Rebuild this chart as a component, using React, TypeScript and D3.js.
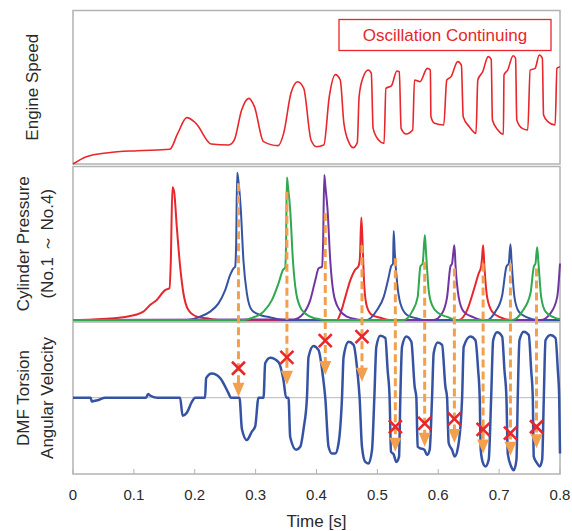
import * as d3 from "d3"

const timeTicks = [0, 0.1, 0.2, 0.3, 0.4, 0.5, 0.6, 0.7, 0.8]

// engine speed: [time s, relative speed]
const engineSpeed: [number, number][] = [
  [0, 0], [0.022, 4.8], [0.058, 7.4], [0.106, 8.7], [0.159, 9.6], [0.172, 20], [0.187, 30.3],
  [0.202, 26.6], [0.227, 13.1], [0.256, 12.4], [0.265, 15.7], [0.277, 35.3], [0.289, 42.9],
  [0.298, 37.5], [0.313, 14.6], [0.337, 12], [0.346, 20], [0.358, 46.2], [0.369, 53.8],
  [0.379, 49.5], [0.391, 15.7], [0.4, 11.3], [0.412, 12.4], [0.421, 44], [0.431, 58.4],
  [0.439, 54.9], [0.445, 26.6], [0.454, 13.5], [0.46, 10.7], [0.467, 14], [0.47, 44],
  [0.476, 56], [0.485, 61.4], [0.49, 59.3], [0.493, 23.3], [0.502, 15.7], [0.511, 13.5],
  [0.514, 49.5], [0.523, 51], [0.532, 60.8], [0.536, 60.3], [0.539, 23.3], [0.547, 19.6],
  [0.558, 22.2], [0.561, 54.9], [0.57, 53.8], [0.582, 62.5], [0.587, 61.4], [0.588, 30.9],
  [0.594, 26.6], [0.609, 25.5], [0.614, 54.9], [0.621, 57.1], [0.632, 66.9], [0.638, 64.7],
  [0.641, 30.9], [0.651, 24.4], [0.662, 20], [0.665, 54.9], [0.673, 60.3], [0.682, 70.2],
  [0.687, 68.4], [0.689, 28.8], [0.698, 22.2], [0.707, 19.4], [0.708, 58.2], [0.714, 61.4],
  [0.723, 70.8], [0.727, 69.1], [0.729, 28.8], [0.738, 23.3], [0.747, 22.2], [0.751, 61.4],
  [0.759, 62.5], [0.766, 71.2], [0.771, 69.1], [0.773, 32], [0.78, 27.7], [0.792, 25.5],
  [0.795, 62.5], [0.8, 63.6],
]

// cylinder pressure: [time s, relative pressure]
const cylRed: [number, number][] = [
  [0, 0], [0.0334, 0.4], [0.0883, 2.2], [0.1156, 5.5], [0.1266, 9.8], [0.1376, 13.1],
  [0.1513, 19.6], [0.1584, 20.8], [0.1607, 39], [0.1633, 86.9], [0.1661, 84], [0.1705, 61],
  [0.176, 35], [0.1814, 17.5], [0.1896, 6.5], [0.2034, 2.2], [0.22, 1.1], [0.2417, 0],
  [0.4336, 0], [0.439, 4], [0.4473, 15], [0.4555, 26], [0.4637, 33], [0.4687, 35], [0.4712, 40],
  [0.4736, 67.2], [0.4757, 50], [0.4785, 22], [0.4829, 8.7], [0.4911, 3.3], [0.5048, 1.5],
  [0.5213, 0], [0.6336, 0], [0.6474, 6.5], [0.6583, 19.6], [0.6665, 30.6], [0.6704, 35],
  [0.6718, 40], [0.6737, 49], [0.6758, 35], [0.6803, 15], [0.6885, 5.5], [0.7022, 1.7],
  [0.7186, 0], [0.8, 0],
]
const cylBlue: [number, number][] = [
  [0, 0], [0.187, 0], [0.2088, 2.2], [0.2253, 5.5], [0.239, 10.9], [0.25, 19.6], [0.2582, 29.5],
  [0.2636, 33.8], [0.2664, 34.9], [0.268, 50], [0.2697, 96.5], [0.2715, 92], [0.2757, 72],
  [0.28, 39], [0.2856, 17.5], [0.2938, 6.5], [0.3075, 3.3], [0.324, 1.7], [0.3458, 0],
  [0.483, 0], [0.4994, 6.5], [0.5103, 15], [0.5185, 28], [0.5224, 35], [0.5257, 37],
  [0.5268, 58.3], [0.5285, 45], [0.5323, 25], [0.5377, 11], [0.5487, 3.3], [0.5652, 1],
  [0.576, 0], [0.6803, 0], [0.694, 5.5], [0.705, 16], [0.712, 35], [0.7158, 37], [0.7186, 49.6],
  [0.7205, 38], [0.7252, 15], [0.7323, 5.5], [0.746, 1.7], [0.7625, 0], [0.8, 0],
]
const cylGreen: [number, number][] = [
  [0, 0], [0.28, 0], [0.291, 1], [0.313, 5.5], [0.3267, 13], [0.3376, 24], [0.3448, 32.7],
  [0.3486, 34.5], [0.35, 50], [0.3514, 93.4], [0.353, 88], [0.3568, 72], [0.3613, 39],
  [0.3667, 17.5], [0.376, 6.5], [0.3897, 2.2], [0.406, 0.4], [0.42, 0], [0.5432, 0],
  [0.557, 5.5], [0.5662, 15], [0.5706, 35], [0.5744, 37], [0.578, 55.7], [0.5798, 45],
  [0.5843, 19.6], [0.5898, 9.8], [0.6007, 4.4], [0.6171, 1.7], [0.6281, 0], [0.7214, 0],
  [0.7378, 5.5], [0.7515, 17.5], [0.757, 35], [0.7597, 37], [0.7625, 47.6], [0.7645, 38],
  [0.7691, 15], [0.7762, 5.5], [0.7899, 1.7], [0.8, 0.5],
]
const cylPurple: [number, number][] = [
  [0, 0], [0.3623, 0.4], [0.3787, 4.4], [0.3897, 13], [0.398, 26], [0.4034, 33.8], [0.409, 34.9],
  [0.4108, 50], [0.4128, 95], [0.4145, 88], [0.4182, 72], [0.4226, 39], [0.428, 17.5],
  [0.4363, 7.6], [0.45, 2.2], [0.4665, 0.4], [0.48, 0], [0.5925, 0], [0.6063, 4.4], [0.6145, 15],
  [0.62, 35], [0.6227, 37], [0.625, 45], [0.6265, 49], [0.6285, 35], [0.6336, 15], [0.6418, 5.5],
  [0.6583, 1.7], [0.672, 0], [0.768, 0], [0.7844, 4.4], [0.7954, 15], [0.8, 37],
]

// DMF torsion angular velocity: [time s, relative velocity]
const dmfVelocity: [number, number][] = [
  [0, 0], [0.0291, 0], [0.0307, -0.05], [0.034, -0.045], [0.042, -0.03], [0.0526, 0], [0.12, 0],
  [0.1233, 0.05], [0.1266, 0.03], [0.138, 0], [0.176, 0], [0.18, -0.24], [0.187, -0.2],
  [0.195, -0.06], [0.2006, 0], [0.217, 0], [0.2187, 0.26], [0.228, 0.32], [0.2417, 0.26],
  [0.2554, 0.06], [0.2593, 0], [0.2735, 0], [0.2774, -0.41], [0.2856, -0.56], [0.2938, -0.45],
  [0.2993, -0.38], [0.3047, 0], [0.313, 0], [0.3157, 0.455], [0.324, 0.53], [0.3376, 0.47],
  [0.3458, 0.23], [0.3502, 0], [0.354, 0], [0.3568, -0.52], [0.3667, -0.69], [0.3733, -0.65],
  [0.379, -0.4], [0.3843, 0], [0.3869, 0.54], [0.3951, 0.685], [0.4034, 0.63], [0.4106, 0.28],
  [0.4144, 0], [0.4198, -0.65], [0.4254, -0.74], [0.4308, -0.74], [0.4363, -0.6], [0.4419, 0],
  [0.4445, 0.54], [0.4527, 0.74], [0.4609, 0.7], [0.4675, 0.32], [0.4708, 0], [0.4747, -0.65],
  [0.4802, -0.85], [0.4856, -0.87], [0.4912, -0.69], [0.495, 0], [0.4983, 0.675], [0.5048, 0.82],
  [0.5131, 0.79], [0.5168, 0.37], [0.5201, 0], [0.5224, -0.715], [0.5267, -0.75], [0.5311, -0.85],
  [0.5356, -0.78], [0.5377, 0], [0.5405, 0.675], [0.5476, 0.81], [0.5558, 0.74], [0.5612, 0.15],
  [0.564, 0], [0.5662, -0.65], [0.5706, -0.67], [0.5772, -0.69], [0.5816, -0.76], [0.5859, -0.69],
  [0.5898, 0], [0.5925, 0.59], [0.5991, 0.73], [0.6063, 0.7], [0.6117, 0.15], [0.6145, 0],
  [0.6171, -0.6], [0.6227, -0.69], [0.627, -0.78], [0.6326, -0.65], [0.6392, 0], [0.6418, 0.675],
  [0.6528, 0.81], [0.6611, 0.76], [0.6655, 0.37], [0.6681, 0], [0.6698, -0.69], [0.6737, -0.87],
  [0.6775, -0.91], [0.6829, -0.82], [0.6869, 0], [0.6902, 0.76], [0.6967, 0.866], [0.705, 0.81],
  [0.7087, 0.37], [0.712, 0], [0.7142, -0.74], [0.7198, -0.91], [0.7241, -0.96], [0.7285, -0.82],
  [0.7306, 0], [0.7334, 0.76], [0.7405, 0.874], [0.7487, 0.83], [0.7526, 0.37], [0.7553, 0],
  [0.7569, -0.78], [0.7625, -0.87], [0.7668, -0.91], [0.7707, -0.82], [0.7734, 0], [0.7762, 0.76],
  [0.7844, 0.83], [0.7926, 0.79], [0.7964, 0.37], [0.7987, 0], [0.8, -0.74],
]

// firing arrows: time, pressure where dash starts, velocity at arrow tip, velocity at cross
const arrowTimes = [0.2718, 0.3514, 0.4144, 0.4747, 0.5295, 0.5777, 0.6265, 0.6737, 0.7186, 0.7614]
const arrowFrom = [89.5, 84, 70, 49, 40.4, 38.2, 33.8, 37, 37, 33.8]
const arrowTo = [0.013, 0.17, 0.3, 0.21, -0.715, -0.65, -0.6, -0.74, -0.77, -0.67]
const crossAt = [0.39, 0.535, 0.755, 0.81, -0.385, -0.34, -0.28, -0.42, -0.47, -0.385]

const W = 572
const H = 531
const font = "'Liberation Sans', Arial, sans-serif"
const frame = "#b3b3b3"
const orange = "#f2a04e"
const red = "#e8262b"
const ink = "#2a2a2a"

const x = d3.scaleLinear().domain([0, 0.8]).range([73, 560])
const ySpeed = d3.scaleLinear().domain([0, 100]).range([164, 11])
const yPress = d3.scaleLinear().domain([0, 100]).range([320, 167.3])
const yVel = d3.scaleLinear().domain([-1, 1]).range([473.2, 322.2])

const panels = [
  { top: 10.5, bottom: 164 },
  { top: 166.5, bottom: 321 },
  { top: 322, bottom: 474 },
]

const mkLine = (y: d3.ScaleLinear<number, number>) =>
  d3
    .line<[number, number]>()
    .x((d) => x(d[0]))
    .y((d) => y(d[1]))
    .curve(d3.curveMonotoneX)

const speedLine = mkLine(ySpeed)
const pressLine = mkLine(yPress)
const velLine = mkLine(yVel)

const cylinders = [
  { data: cylRed, colour: "#e8262b" },
  { data: cylBlue, colour: "#3653a3" },
  { data: cylPurple, colour: "#7035a0" },
  { data: cylGreen, colour: "#2fa84f" },
]

export default function App() {
  const bottom = panels[2].bottom
  return (
    <div style={{ position: "absolute", left: 0, top: 0 }}>
      <svg width={W} height={H} style={{ display: "block", fontFamily: font }}>
        <rect width={W} height={H} fill="#fff" />

        {panels.map((p, i) => (
          <rect
            key={i}
            x={x(0)}
            y={p.top}
            width={x(0.8) - x(0)}
            height={p.bottom - p.top}
            fill="none"
            stroke={frame}
            strokeWidth={1.5}
          />
        ))}

        {/* zero line of the DMF panel */}
        <line x1={x(0)} x2={x(0.8)} y1={yVel(0)} y2={yVel(0)} stroke="#b8b8b8" strokeWidth={1} />

        {/* x ticks */}
        {timeTicks.map((t) => (
          <g key={t}>
            <line x1={x(t)} x2={x(t)} y1={bottom} y2={bottom - 5} stroke={frame} strokeWidth={1} />
            <text x={x(t)} y={500} textAnchor="middle" fontSize={15} fill={ink}>
              {t === 0 ? "0" : t.toFixed(1)}
            </text>
          </g>
        ))}
        <text x={(x(0) + x(0.8)) / 2} y={527} textAnchor="middle" fontSize={17} fill={ink}>
          Time [s]
        </text>

        {/* axis titles */}
        <text transform={`translate(38,${(panels[0].top + panels[0].bottom) / 2}) rotate(-90)`} textAnchor="middle" fontSize={17} fill={ink}>
          Engine Speed
        </text>
        <text transform={`translate(29,${(panels[1].top + panels[1].bottom) / 2}) rotate(-90)`} textAnchor="middle" fontSize={17} fill={ink}>
          Cylinder Pressure
        </text>
        <text transform={`translate(53,${(panels[1].top + panels[1].bottom) / 2}) rotate(-90)`} textAnchor="middle" fontSize={17} fill={ink}>
          (No.1 ～ No.4)
        </text>
        <text transform={`translate(29,${(panels[2].top + panels[2].bottom) / 2}) rotate(-90)`} textAnchor="middle" fontSize={17} fill={ink}>
          DMF Torsion
        </text>
        <text transform={`translate(53,${(panels[2].top + panels[2].bottom) / 2}) rotate(-90)`} textAnchor="middle" fontSize={17} fill={ink}>
          Angular Velocity
        </text>

        {/* engine speed */}
        <path d={speedLine(engineSpeed) ?? ""} fill="none" stroke={red} strokeWidth={1.6} />
        <rect x={339} y={19.5} width={212} height={31} fill="#fff" stroke={red} strokeWidth={1.3} />
        <text x={445} y={41} textAnchor="middle" fontSize={17} fill={red}>
          Oscillation Continuing
        </text>

        {/* cylinder pressures */}
        {cylinders.map((c, i) => (
          <path key={i} d={pressLine(c.data) ?? ""} fill="none" stroke={c.colour} strokeWidth={2} strokeLinejoin="round" />
        ))}

        {/* DMF angular velocity */}
        <path d={velLine(dmfVelocity) ?? ""} fill="none" stroke="#3653a3" strokeWidth={2.5} strokeLinejoin="round" />

        {/* firing arrows */}
        {arrowTimes.map((t, i) => {
          const ax = x(t)
          const tip = yVel(arrowTo[i])
          const head = 14
          return (
            <g key={i}>
              <line
                x1={ax}
                x2={ax}
                y1={yPress(arrowFrom[i])}
                y2={tip - head + 1}
                stroke={orange}
                strokeWidth={3}
                strokeDasharray="8 4"
              />
              <polygon points={`${ax - 6},${tip - head} ${ax + 6},${tip - head} ${ax},${tip}`} fill={orange} />
            </g>
          )
        })}

        {/* crosses */}
        {arrowTimes.map((t, i) => {
          const cx = x(t)
          const cy = yVel(crossAt[i])
          const s = 6.5
          return (
            <g key={i} stroke={red} strokeWidth={2.6}>
              <line x1={cx - s} y1={cy - s} x2={cx + s} y2={cy + s} />
              <line x1={cx - s} y1={cy + s} x2={cx + s} y2={cy - s} />
            </g>
          )
        })}
      </svg>
    </div>
  )
}
